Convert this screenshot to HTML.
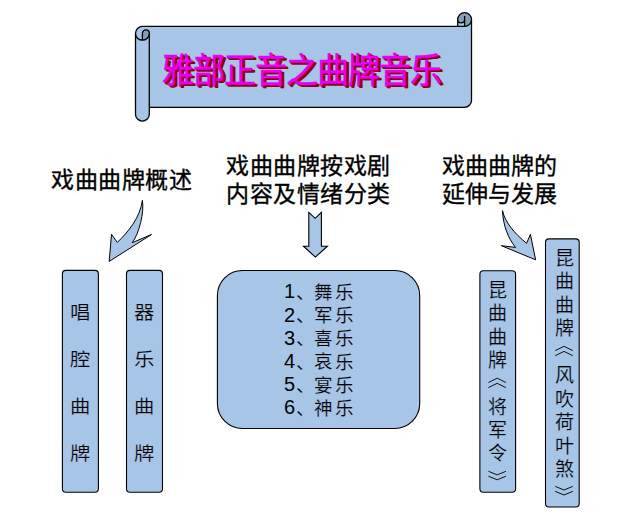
<!DOCTYPE html>
<html lang="zh-CN"><head><meta charset="utf-8">
<style>
html,body{margin:0;padding:0;background:#fff;}
body{width:632px;height:517px;position:relative;overflow:hidden;font-family:"Liberation Sans",sans-serif;color:#000;}
svg{position:absolute;left:0;top:0;}
.t{position:absolute;white-space:nowrap;}
.h{font-size:23px;line-height:28.5px;letter-spacing:0.5px;-webkit-text-stroke:0.35px #000;}
.c{position:absolute;white-space:nowrap;color:#000;-webkit-text-stroke:0.2px #A7C5E6;}
.title{position:absolute;left:162px;top:49px;font-size:32px;line-height:40px;color:#ea00f0;-webkit-text-stroke:0.3px #ea00f0;white-space:nowrap;text-shadow:1px 1px 0 #8c0018,2px 2px 0 #8c0018,2.6px 2.6px 0 #8c0018;letter-spacing:-1px;transform:scaleY(1.085);transform-origin:0 0;}
</style></head><body>
<svg width="632" height="517" viewBox="0 0 632 517">
<path d="M 471.50 19.50 A 6.90 6.90 0 0 1 464.60 26.40 L 464.60 19.50 A 3.45 3.45 0 0 1 457.70 19.50 L 457.70 26.40 L 142.40 26.40 A 6.90 6.90 0 0 0 135.50 33.30 L 135.50 114.20 A 6.90 6.90 0 0 0 149.30 114.20 L 149.30 107.30 L 464.60 107.30 A 6.90 6.90 0 0 0 471.50 100.40 Z" fill="#A7C5E6"/>
<path d="M 142.40 40.20 A 6.90 6.90 0 0 0 149.30 33.30 A 3.45 3.45 0 0 0 142.40 33.30 Z M 464.60 26.40 A 6.90 6.90 0 1 0 457.70 19.50 A 3.45 3.45 0 0 0 464.60 19.50 Z" fill="#869EB8"/>
<path d="M 135.50 33.30 A 6.90 6.90 0 0 1 142.40 26.40 L 457.70 26.40 L 457.70 19.50 A 6.90 6.90 0 0 1 471.50 19.50 L 471.50 100.40 A 6.90 6.90 0 0 1 464.60 107.30 L 149.30 107.30 L 149.30 114.20 A 6.90 6.90 0 0 1 135.50 114.20 Z M 457.70 26.40 L 464.60 26.40 A 6.90 6.90 0 0 0 471.50 19.50 M 464.60 16.05 L 464.60 19.50 A 3.45 3.45 0 0 1 457.70 19.50 M 464.60 26.40 L 464.60 19.50 M 142.40 40.20 L 142.40 33.30 A 3.45 3.45 0 0 1 149.30 33.30 A 6.90 6.90 0 0 1 135.50 33.30 M 149.30 33.30 L 149.30 107.30" fill="none" stroke="#000" stroke-width="1.3"/>

<path d="M 142.4 200.4 C 144.5 212, 139 234, 132.2 242.7 L 151.5 234.5 L 109.2 261.4 L 111.5 234.3 L 117.3 242.4 C 128 232, 140 218, 142.4 200.4 Z" fill="#A7C5E6" stroke="#000" stroke-width="1"/>
<path d="M 308.8 212.4 L 315.2 218.3 L 321.4 212.4 L 321.4 246.2 L 327.4 246.2 L 315.4 257.1 L 303.5 246.2 L 308.8 246.2 Z" fill="#A7C5E6" stroke="#000" stroke-width="1.1"/>
<path d="M 502.5 210.7 C 505 222, 514 233, 526.6 243.3 L 530.4 234.3 L 535.6 259.8 L 501.4 245.7 L 515.5 247.4 C 508 238, 503 225, 502.5 210.7 Z" fill="#A7C5E6" stroke="#000" stroke-width="1"/>
<rect x="62.4" y="270.4" width="36" height="221.8" rx="3.5" fill="#A7C5E6" stroke="#000" stroke-width="1.1"/>
<rect x="126.5" y="270.4" width="36" height="221.8" rx="3.5" fill="#A7C5E6" stroke="#000" stroke-width="1.1"/>
<rect x="217.4" y="270.5" width="202.3" height="158" rx="25" fill="#A7C5E6" stroke="#000" stroke-width="1.1"/>
<rect x="479.9" y="270.8" width="35.7" height="221.4" rx="3.5" fill="#A7C5E6" stroke="#000" stroke-width="1.1"/>
<rect x="545.5" y="238.9" width="33.7" height="268.1" rx="3.5" fill="#A7C5E6" stroke="#000" stroke-width="1.1"/>
<path d="M 488.45 382.50 L 497.20 378.20 L 505.95 382.50 M 488.45 387.60 L 497.20 383.30 L 505.95 387.60 M 488.45 471.30 L 497.20 474.90 L 505.95 471.30 M 488.45 476.20 L 497.20 479.80 L 505.95 476.20 M 555.25 350.60 L 564.00 346.30 L 572.75 350.60 M 555.25 355.70 L 564.00 351.40 L 572.75 355.70 M 555.25 486.40 L 564.00 490.00 L 572.75 486.40 M 555.25 491.40 L 564.00 495.00 L 572.75 491.40" fill="none" stroke="#111" stroke-width="1"/>
</svg>
<div class="title">雅部正音之曲牌音乐</div>
<div class="t h" style="left:51px;top:165.5px;">戏曲曲牌概述</div>
<div class="t h" style="left:226px;top:151.5px;">戏曲曲牌按戏剧<br>内容及情绪分类</div>
<div class="t h" style="left:442px;top:151.5px;letter-spacing:0.1px;">戏曲曲牌的<br>延伸与发展</div>
<div class="c" style="left:70.95px;top:303.80px;font-size:18.5px;line-height:18.5px;width:18.5px;text-align:center;transform:scaleX(1.1);">唱</div>
<div class="c" style="left:70.95px;top:350.80px;font-size:18.5px;line-height:18.5px;width:18.5px;text-align:center;transform:scaleX(1.1);">腔</div>
<div class="c" style="left:70.95px;top:397.80px;font-size:18.5px;line-height:18.5px;width:18.5px;text-align:center;transform:scaleX(1.1);">曲</div>
<div class="c" style="left:70.95px;top:444.80px;font-size:18.5px;line-height:18.5px;width:18.5px;text-align:center;transform:scaleX(1.1);">牌</div>
<div class="c" style="left:135.15px;top:303.80px;font-size:18.5px;line-height:18.5px;width:18.5px;text-align:center;transform:scaleX(1.1);">器</div>
<div class="c" style="left:135.15px;top:350.80px;font-size:18.5px;line-height:18.5px;width:18.5px;text-align:center;transform:scaleX(1.1);">乐</div>
<div class="c" style="left:135.15px;top:397.80px;font-size:18.5px;line-height:18.5px;width:18.5px;text-align:center;transform:scaleX(1.1);">曲</div>
<div class="c" style="left:135.15px;top:444.80px;font-size:18.5px;line-height:18.5px;width:18.5px;text-align:center;transform:scaleX(1.1);">牌</div>
<div class="c" style="left:487.70px;top:281.10px;font-size:19px;line-height:19px;">昆</div>
<div class="c" style="left:487.70px;top:304.40px;font-size:19px;line-height:19px;">曲</div>
<div class="c" style="left:487.70px;top:327.70px;font-size:19px;line-height:19px;">曲</div>
<div class="c" style="left:487.70px;top:351.00px;font-size:19px;line-height:19px;">牌</div>
<div class="c" style="left:487.70px;top:397.60px;font-size:19px;line-height:19px;">将</div>
<div class="c" style="left:487.70px;top:420.90px;font-size:19px;line-height:19px;">军</div>
<div class="c" style="left:487.70px;top:444.20px;font-size:19px;line-height:19px;">令</div>
<div class="c" style="left:554.50px;top:248.50px;font-size:19px;line-height:19px;">昆</div>
<div class="c" style="left:554.50px;top:272.00px;font-size:19px;line-height:19px;">曲</div>
<div class="c" style="left:554.50px;top:295.50px;font-size:19px;line-height:19px;">曲</div>
<div class="c" style="left:554.50px;top:319.00px;font-size:19px;line-height:19px;">牌</div>
<div class="c" style="left:554.50px;top:366.00px;font-size:19px;line-height:19px;">风</div>
<div class="c" style="left:554.50px;top:389.50px;font-size:19px;line-height:19px;">吹</div>
<div class="c" style="left:554.50px;top:413.00px;font-size:19px;line-height:19px;">荷</div>
<div class="c" style="left:554.50px;top:436.50px;font-size:19px;line-height:19px;">叶</div>
<div class="c" style="left:554.50px;top:460.00px;font-size:19px;line-height:19px;">煞</div>
<div class="c" style="left:283.90px;top:281.40px;font-size:20px;line-height:20px;-webkit-text-stroke:0;">1</div>
<div class="c" style="left:296.00px;top:284.00px;font-size:18.5px;line-height:18.5px;">、</div>
<div class="c" style="left:313.80px;top:283.70px;font-size:18.5px;line-height:18.5px;">舞</div>
<div class="c" style="left:334.70px;top:283.90px;font-size:18.5px;line-height:18.5px;">乐</div>
<div class="c" style="left:283.90px;top:304.60px;font-size:20px;line-height:20px;-webkit-text-stroke:0;">2</div>
<div class="c" style="left:296.00px;top:307.20px;font-size:18.5px;line-height:18.5px;">、</div>
<div class="c" style="left:313.80px;top:306.90px;font-size:18.5px;line-height:18.5px;">军</div>
<div class="c" style="left:334.70px;top:307.10px;font-size:18.5px;line-height:18.5px;">乐</div>
<div class="c" style="left:283.90px;top:327.80px;font-size:20px;line-height:20px;-webkit-text-stroke:0;">3</div>
<div class="c" style="left:296.00px;top:330.40px;font-size:18.5px;line-height:18.5px;">、</div>
<div class="c" style="left:313.80px;top:330.10px;font-size:18.5px;line-height:18.5px;">喜</div>
<div class="c" style="left:334.70px;top:330.30px;font-size:18.5px;line-height:18.5px;">乐</div>
<div class="c" style="left:283.90px;top:351.00px;font-size:20px;line-height:20px;-webkit-text-stroke:0;">4</div>
<div class="c" style="left:296.00px;top:353.60px;font-size:18.5px;line-height:18.5px;">、</div>
<div class="c" style="left:313.80px;top:353.30px;font-size:18.5px;line-height:18.5px;">哀</div>
<div class="c" style="left:334.70px;top:353.50px;font-size:18.5px;line-height:18.5px;">乐</div>
<div class="c" style="left:283.90px;top:374.20px;font-size:20px;line-height:20px;-webkit-text-stroke:0;">5</div>
<div class="c" style="left:296.00px;top:376.80px;font-size:18.5px;line-height:18.5px;">、</div>
<div class="c" style="left:313.80px;top:376.50px;font-size:18.5px;line-height:18.5px;">宴</div>
<div class="c" style="left:334.70px;top:376.70px;font-size:18.5px;line-height:18.5px;">乐</div>
<div class="c" style="left:283.90px;top:397.40px;font-size:20px;line-height:20px;-webkit-text-stroke:0;">6</div>
<div class="c" style="left:296.00px;top:400.00px;font-size:18.5px;line-height:18.5px;">、</div>
<div class="c" style="left:313.80px;top:399.70px;font-size:18.5px;line-height:18.5px;">神</div>
<div class="c" style="left:334.70px;top:399.90px;font-size:18.5px;line-height:18.5px;">乐</div>
</body></html>
